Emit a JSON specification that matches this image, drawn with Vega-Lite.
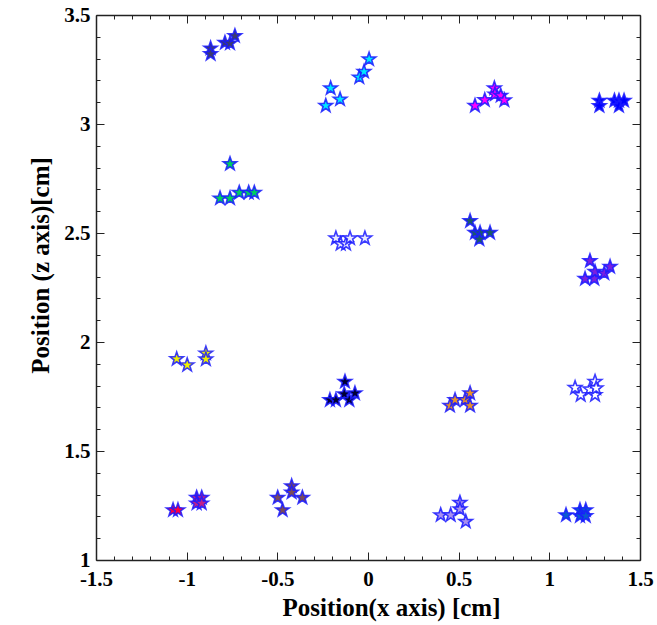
{
  "$schema": "https://vega.github.io/schema/vega-lite/v6.json",
  "width": 544,
  "height": 545,
  "autosize": "none",
  "padding": {"left": 96, "top": 15, "right": 17, "bottom": 65},
  "background": "white",
  "config": {
    "view": {"stroke": null},
    "axis": {
      "labelFont": "Liberation Serif",
      "labelFontWeight": "bold",
      "labelFontSize": 21,
      "labelColor": "black",
      "titleFont": "Liberation Serif",
      "titleFontWeight": "bold",
      "titleFontSize": 25,
      "titleColor": "black",
      "domainColor": "#222222",
      "domainWidth": 1.5,
      "tickColor": "#222222",
      "tickWidth": 1,
      "grid": false
    }
  },
  "data": {
    "values": [
      {"x": -0.868, "z": 3.347, "group": "g01"},
      {"x": -0.868, "z": 3.321, "group": "g01"},
      {"x": -0.789, "z": 3.373, "group": "g01"},
      {"x": -0.761, "z": 3.37, "group": "g01"},
      {"x": -0.734, "z": 3.404, "group": "g01"},
      {"x": -0.206, "z": 3.164, "group": "g02"},
      {"x": -0.233, "z": 3.084, "group": "g02"},
      {"x": -0.154, "z": 3.113, "group": "g02"},
      {"x": -0.048, "z": 3.214, "group": "g02"},
      {"x": -0.022, "z": 3.24, "group": "g02"},
      {"x": 0.006, "z": 3.297, "group": "g02"},
      {"x": 0.59, "z": 3.084, "group": "g03"},
      {"x": 0.644, "z": 3.11, "group": "g03"},
      {"x": 0.697, "z": 3.164, "group": "g03"},
      {"x": 0.7, "z": 3.136, "group": "g03"},
      {"x": 0.732, "z": 3.13, "group": "g03"},
      {"x": 0.752, "z": 3.109, "group": "g03"},
      {"x": 1.276, "z": 3.107, "group": "g04"},
      {"x": 1.276, "z": 3.083, "group": "g04"},
      {"x": 1.359, "z": 3.107, "group": "g04"},
      {"x": 1.384, "z": 3.107, "group": "g04"},
      {"x": 1.384, "z": 3.083, "group": "g04"},
      {"x": 1.412, "z": 3.107, "group": "g04"},
      {"x": -0.761, "z": 2.817, "group": "g05"},
      {"x": -0.816, "z": 2.659, "group": "g05"},
      {"x": -0.761, "z": 2.659, "group": "g05"},
      {"x": -0.71, "z": 2.685, "group": "g05"},
      {"x": -0.658, "z": 2.685, "group": "g05"},
      {"x": -0.627, "z": 2.685, "group": "g05"},
      {"x": -0.177, "z": 2.476, "group": "g06"},
      {"x": -0.151, "z": 2.45, "group": "g06"},
      {"x": -0.121, "z": 2.45, "group": "g06"},
      {"x": -0.099, "z": 2.476, "group": "g06"},
      {"x": -0.017, "z": 2.476, "group": "g06"},
      {"x": 0.563, "z": 2.555, "group": "g07"},
      {"x": 0.59, "z": 2.501, "group": "g07"},
      {"x": 0.618, "z": 2.501, "group": "g07"},
      {"x": 0.614, "z": 2.471, "group": "g07"},
      {"x": 0.673, "z": 2.501, "group": "g07"},
      {"x": 1.224, "z": 2.372, "group": "g08"},
      {"x": 1.197, "z": 2.29, "group": "g08"},
      {"x": 1.248, "z": 2.29, "group": "g08"},
      {"x": 1.252, "z": 2.322, "group": "g08"},
      {"x": 1.303, "z": 2.315, "group": "g08"},
      {"x": 1.335, "z": 2.345, "group": "g08"},
      {"x": -1.055, "z": 1.922, "group": "g09"},
      {"x": -0.997, "z": 1.894, "group": "g09"},
      {"x": -0.894, "z": 1.948, "group": "g09"},
      {"x": -0.894, "z": 1.921, "group": "g09"},
      {"x": -0.127, "z": 1.818, "group": "g10"},
      {"x": -0.21, "z": 1.734, "group": "g10"},
      {"x": -0.177, "z": 1.734, "group": "g10"},
      {"x": -0.131, "z": 1.761, "group": "g10"},
      {"x": -0.103, "z": 1.734, "group": "g10"},
      {"x": -0.072, "z": 1.765, "group": "g10"},
      {"x": 0.452, "z": 1.708, "group": "g11"},
      {"x": 0.48, "z": 1.734, "group": "g11"},
      {"x": 0.535, "z": 1.734, "group": "g11"},
      {"x": 0.563, "z": 1.765, "group": "g11"},
      {"x": 0.563, "z": 1.708, "group": "g11"},
      {"x": 1.142, "z": 1.79, "group": "g12"},
      {"x": 1.173, "z": 1.757, "group": "g12"},
      {"x": 1.224, "z": 1.783, "group": "g12"},
      {"x": 1.252, "z": 1.818, "group": "g12"},
      {"x": 1.252, "z": 1.757, "group": "g12"},
      {"x": 1.258, "z": 1.788, "group": "g12"},
      {"x": -1.075, "z": 1.229, "group": "g13"},
      {"x": -1.048, "z": 1.229, "group": "g13"},
      {"x": -0.945, "z": 1.286, "group": "g14"},
      {"x": -0.917, "z": 1.286, "group": "g14"},
      {"x": -0.945, "z": 1.26, "group": "g14"},
      {"x": -0.917, "z": 1.26, "group": "g14"},
      {"x": -0.498, "z": 1.286, "group": "g15"},
      {"x": -0.471, "z": 1.229, "group": "g15"},
      {"x": -0.421, "z": 1.339, "group": "g15"},
      {"x": -0.421, "z": 1.31, "group": "g15"},
      {"x": -0.362, "z": 1.286, "group": "g15"},
      {"x": 0.401, "z": 1.206, "group": "g16"},
      {"x": 0.456, "z": 1.206, "group": "g16"},
      {"x": 0.507, "z": 1.263, "group": "g16"},
      {"x": 0.507, "z": 1.233, "group": "g16"},
      {"x": 0.539, "z": 1.176, "group": "g16"},
      {"x": 1.092, "z": 1.206, "group": "g17"},
      {"x": 1.169, "z": 1.229, "group": "g17"},
      {"x": 1.169, "z": 1.202, "group": "g17"},
      {"x": 1.201, "z": 1.229, "group": "g17"},
      {"x": 1.201, "z": 1.202, "group": "g17"}
    ]
  },
  "layer": [
    {
      "mark": {"type": "point", "opacity": 0, "size": 1},
      "encoding": {
        "x": {"field": "x", "type": "quantitative", "scale": {"domain": [-1.5, 1.5], "nice": false, "zero": false},
          "axis": {"orient": "top", "title": null, "labels": false,
            "values": [-1.5,-1.4,-1.3,-1.2,-1.1,-1,-0.9,-0.8,-0.7,-0.6,-0.5,-0.4,-0.3,-0.2,-0.1,0,0.1,0.2,0.3,0.4,0.5,0.6,0.7,0.8,0.9,1,1.1,1.2,1.3,1.4,1.5],
            "tickSize": {"condition": {"test": "abs(datum.value*2 - round(datum.value*2)) < 0.001", "value": -8}, "value": -4}}},
        "y": {"field": "z", "type": "quantitative", "scale": {"domain": [1, 3.5], "nice": false, "zero": false},
          "axis": {"orient": "right", "title": null, "labels": false,
            "values": [1,1.1,1.2,1.3,1.4,1.5,1.6,1.7,1.8,1.9,2,2.1,2.2,2.3,2.4,2.5,2.6,2.7,2.8,2.9,3,3.1,3.2,3.3,3.4,3.5],
            "tickSize": {"condition": {"test": "abs(datum.value*2 - round(datum.value*2)) < 0.001", "value": -8}, "value": -4}}}
      }
    },
    {
      "mark": {
        "type": "point",
        "filled": true,
        "shape": "M0,-1L0.235,-0.324L0.951,-0.309L0.38,0.124L0.588,0.809L0,0.4L-0.588,0.809L-0.38,0.124L-0.951,-0.309L-0.235,-0.324Z",
        "size": 200,
        "stroke": "#1a1aff",
        "strokeWidth": 1.6,
        "strokeOpacity": 0.85,
        "opacity": 1
      },
      "encoding": {
        "x": {"field": "x", "type": "quantitative", "scale": {"domain": [-1.5, 1.5], "nice": false, "zero": false},
          "axis": {"orient": "bottom", "title": "Position(x axis) [cm]",
            "titleX": 295, "titleY": 47, "titleBaseline": "middle", "titleAlign": "center", "titleAnchor": null,
            "values": [-1.5,-1.4,-1.3,-1.2,-1.1,-1,-0.9,-0.8,-0.7,-0.6,-0.5,-0.4,-0.3,-0.2,-0.1,0,0.1,0.2,0.3,0.4,0.5,0.6,0.7,0.8,0.9,1,1.1,1.2,1.3,1.4,1.5],
            "labelExpr": "abs(datum.value*2 - round(datum.value*2)) < 0.001 ? '' + datum.value : ''",
            "labelFlush": false, "labelOverlap": false, "labelPadding": 16,
            "tickSize": {"condition": {"test": "abs(datum.value*2 - round(datum.value*2)) < 0.001", "value": -8}, "value": -4}}},
        "y": {"field": "z", "type": "quantitative", "scale": {"domain": [1, 3.5], "nice": false, "zero": false},
          "axis": {"orient": "left", "title": "Position (z axis)[cm]",
            "titleX": -56, "titleY": 250, "titleBaseline": "middle", "titleAlign": "center", "titleAngle": -90, "titleAnchor": null,
            "values": [1,1.1,1.2,1.3,1.4,1.5,1.6,1.7,1.8,1.9,2,2.1,2.2,2.3,2.4,2.5,2.6,2.7,2.8,2.9,3,3.1,3.2,3.3,3.4,3.5],
            "labelExpr": "abs(datum.value*2 - round(datum.value*2)) < 0.001 ? '' + datum.value : ''",
            "labelFlush": false, "labelOverlap": false, "labelPadding": 14,
            "tickSize": {"condition": {"test": "abs(datum.value*2 - round(datum.value*2)) < 0.001", "value": -8}, "value": -4}}},
        "fill": {"field": "group", "type": "nominal", "legend": null,
          "scale": {
            "domain": ["g01","g02","g03","g04","g05","g06","g07","g08","g09","g10","g11","g12","g13","g14","g15","g16","g17"],
            "range": ["#3c3c6e","#00e8ff","#ff00ff","#0000ff","#00d060","#e8e8ff","#1a5a6a","#7a20e0","#f0f000","#000033","#e8902a","#ffffff","#ff0040","#c0208a","#7a4a5a","#a890f0","#0a5ad0"]
          }}
      }
    }
  ],
  "resolve": {"axis": {"x": "independent", "y": "independent"}}
}
